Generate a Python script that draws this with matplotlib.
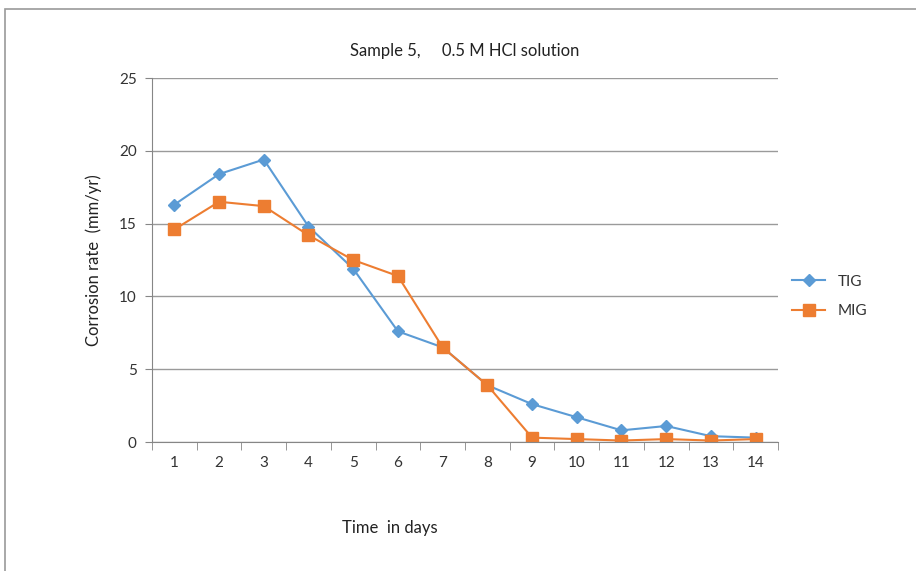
import matplotlib.pyplot as plt
from matplotlib.patches import Rectangle

plt.rcParams['font.family'] = ['Lato', 'DejaVu Sans']

days = list(range(1, 15))
tig = [16.3, 18.4, 19.4, 14.8, 11.9, 7.6, 6.5, 3.9, 2.6, 1.7, 0.8, 1.1, 0.4, 0.3]
mig = [14.6, 16.5, 16.2, 14.2, 12.5, 11.4, 6.5, 3.9, 0.3, 0.2, 0.1, 0.2, 0.1, 0.2]
yticks = [0, 5, 10, 15, 20, 25]

fig = plt.figure(figsize=(9.16, 5.71), dpi=100)
fig.patches.append(Rectangle((5 / 916, -0.1), 1.1, 1.1 - 9 / 571,
                             transform=fig.transFigure, fill=False,
                             edgecolor='#9a9a9a', linewidth=1.2))

ax = fig.add_axes([152 / 916, 129 / 571, 626 / 916, 364 / 571])
ax.plot(days, tig, color='#5B9BD5', marker='D', markersize=6, linewidth=1.5, label='TIG')
ax.plot(days, mig, color='#ED7D31', marker='s', markersize=8, linewidth=1.5, label='MIG')

ax.set_xlim(0.5, 14.5)
ax.set_ylim(0, 25)
ax.set_xticks(days)
ax.set_xticks([d + 0.5 for d in range(0, 15)], minor=True)
ax.set_yticks(yticks)
ax.tick_params(axis='x', which='major', length=0, pad=10, labelsize=11, labelcolor='#333333')
ax.tick_params(axis='x', which='minor', length=6, color='#868686', direction='out')
ax.tick_params(axis='y', length=5, color='#868686', pad=6, labelsize=11, labelcolor='#333333')
ax.grid(axis='y', color='#9a9a9a', linewidth=1)
ax.set_axisbelow(True)
for s in ['top', 'right']:
    ax.spines[s].set_visible(False)
for s in ['left', 'bottom']:
    ax.spines[s].set_color('#868686')

ax.set_title('Sample 5,     0.5 M HCl solution', fontsize=12, color='#222222', pad=16)
ax.set_ylabel('Corrosion rate  (mm/yr)', fontsize=12, color='#222222', labelpad=12)
ax.set_xlabel('Time  in days', fontsize=12, color='#222222')
ax.xaxis.set_label_coords(0.38, -0.215)

ax.legend(loc='center left', bbox_to_anchor=(1.0, 0.40), frameon=False, fontsize=11,
          handlelength=2.2, labelspacing=1.0, labelcolor='#333333')

fig.savefig('out.png', dpi=100)
